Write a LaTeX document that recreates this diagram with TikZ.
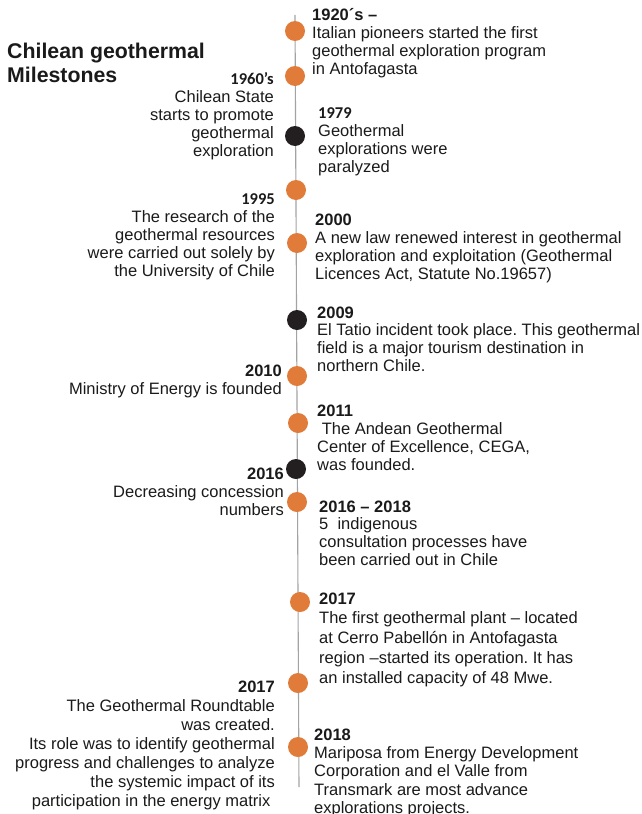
\documentclass[tikz,border=0pt]{standalone}
\usepackage{fontspec}
\setmainfont{Liberation Sans}
\newfontfamily\carlito{Carlito}
\frenchspacing
\definecolor{dotorange}{HTML}{E07B39}
\definecolor{dotdark}{HTML}{231F20}
\definecolor{spinegray}{HTML}{A3A3A3}
\definecolor{ink}{HTML}{1A1A1A}
% year headings: a fixed-height strut keeps every first line the same height
\newcommand{\yr}[1]{\rule{0pt}{13pt}\textbf{#1}}
\newcommand{\yrc}[1]{\rule{0pt}{13pt}{\carlito\bfseries #1}}
\begin{document}
\begin{tikzpicture}[x=1pt,y=-1pt,
  dotmark/.style={circle,inner sep=0pt,minimum size=20pt},
  hot/.style={dotmark,fill=dotorange},
  halt/.style={dotmark,fill=dotdark},
  spine/.style={draw=spinegray,line width=1.1pt},
  evright/.style={anchor=north west,inner sep=0pt,align=left,yshift=13pt,
    text=ink,font=\fontsize{16.5}{#1}\selectfont\frenchspacing},
  evright/.default=18,
  evleft/.style={anchor=north east,inner sep=0pt,align=right,yshift=13pt,
    text=ink,font=\fontsize{16.5}{#1}\selectfont\frenchspacing},
  evleft/.default=18,
]
\useasboundingbox (0,0) rectangle (642,814);

% title
\node[anchor=north west,inner sep=0pt,yshift=16pt,align=left,text=ink,
  font=\fontsize{21.3}{24}\selectfont\bfseries] (title) at (7,58)
  {\rule{0pt}{16pt}Chilean geothermal\\Milestones};

% time axis
\coordinate (axtop) at (295,15);
\coordinate (axbot) at (299,787);
\draw[spine] (axtop) -- (axbot);

% milestone markers
\node[hot]  (d1)  at (295,31)  {};
\node[hot]  (d2)  at (295,76)  {};
\node[halt] (d3)  at (295,136) {};
\node[hot]  (d4)  at (296,190) {};
\node[hot]  (d5)  at (297,243) {};
\node[halt] (d6)  at (297,320) {};
\node[hot]  (d7)  at (297,376) {};
\node[hot]  (d8)  at (298,423) {};
\node[halt] (d9)  at (296,469) {};
\node[hot]  (d10) at (297,502) {};
\node[hot]  (d11) at (300,602) {};
\node[hot]  (d12) at (298,683) {};
\node[hot]  (d13) at (298,747) {};

% events to the right of the axis
\node[evright] (e1920) at (312,20) {\yr{1920´s –}\\Italian pioneers started the first\\geothermal exploration program\\in Antofagasta};
\node[evright] (e1979) at (318,118) {\yrc{1979}\\Geothermal\\explorations were\\paralyzed};
\node[evright] (e2000) at (315,225) {\yr{2000}\\A new law renewed interest in geothermal\\exploration and exploitation (Geothermal\\Licences Act, Statute No.19657)};
\node[evright=17.7] (e2009) at (317,318) {\yr{2009}\\El Tatio incident took place. This geothermal\\field is a major tourism destination in\\northern Chile.};
\node[evright] (e2011) at (317,416) {\yr{2011}\\\ The Andean Geothermal\\Center of Excellence, CEGA,\\was founded.};
\node[evright=17.7] (e2016b) at (319,512) {\yr{2016 – 2018}\\5\ \ indigenous\\consultation processes have\\been carried out in Chile};
\node[evright=19.7] (e2017a) at (319,604) {\yr{2017}\\The first geothermal plant – located\\at Cerro Pabellón in Antofagasta\\region –started its operation. It has\\an installed capacity of 48 Mwe.};
\node[evright=18.3] (e2018) at (314,740) {\yr{2018}\\Mariposa from Energy Development\\Corporation and el Valle from\\Transmark are most advance\\explorations projects.};

% events to the left of the axis
\node[evleft] (e1960) at (274,84) {\yrc{1960’s}\\Chilean State\\starts to promote\\geothermal\\exploration};
\node[evleft] (e1995) at (275,204) {\yrc{1995}\\The research of the\\geothermal resources\\were carried out solely by\\the University of Chile};
\node[evleft] (e2010) at (282,376) {\yr{2010}\\Ministry of Energy is founded};
\node[evleft] (e2016a) at (284,479) {\yr{2016}\\Decreasing concession\\numbers};
\node[evleft=19] (e2017b) at (275,692) {\yr{2017}\\The Geothermal Roundtable\\was created.\\Its role was to identify geothermal\\progress and challenges to analyze\\the systemic impact of its\\participation in the energy matrix\hspace*{4.5pt}};
\end{tikzpicture}
\end{document}
